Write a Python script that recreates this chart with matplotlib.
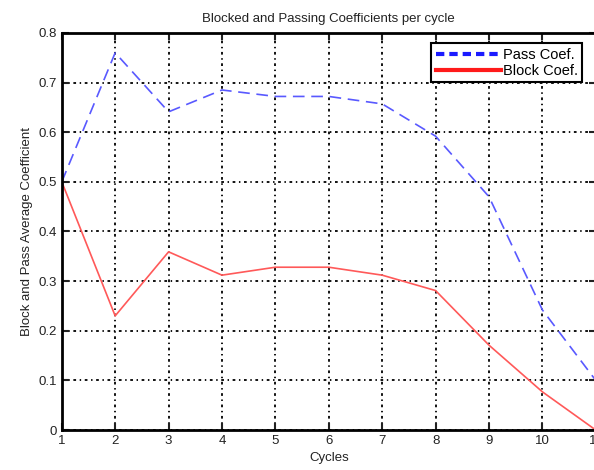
import numpy as np
import matplotlib
matplotlib.use('Agg')
import matplotlib.pyplot as plt
from matplotlib.lines import Line2D

plt.rcParams['font.family'] = ['Liberation Sans', 'DejaVu Sans']

# Data
cycles = [1, 2, 3, 4, 5, 6, 7, 8, 9, 10, 11]
pass_coef = [0.50, 0.76, 0.641, 0.685, 0.672, 0.672, 0.657, 0.592, 0.47, 0.242, 0.10]
block_coef = [0.50, 0.23, 0.359, 0.312, 0.328, 0.328, 0.312, 0.281, 0.171, 0.077, 0.0]

blue = (0.35, 0.35, 1.0)
red = (1.0, 0.35, 0.35)

fig = plt.figure(figsize=(5.94, 4.70), dpi=100)
ax = fig.add_axes([0.104, 0.085, 0.899, 0.845])

ax.plot(cycles, pass_coef, color=blue, lw=1.2, linestyle=(0, (7, 4)))
ax.plot(cycles, block_coef, color=red, lw=1.2)

ax.set_xlim(1, 11)
ax.set_ylim(0, 0.8)
ax.set_xticks(range(1, 12))
ax.set_yticks(np.arange(0, 0.81, 0.1))
ax.set_yticklabels(['0', '0.1', '0.2', '0.3', '0.4', '0.5', '0.6', '0.7', '0.8'])

ax.grid(True, color='black', linestyle=(0, (1.5, 2.0, 0.8, 2.0)), linewidth=1.3)
ax.set_axisbelow(True)
for s in ax.spines.values():
    s.set_linewidth(2)
ax.tick_params(direction='in', length=5, width=1.5, labelsize=9.5, colors='#222222',
               top=True, right=True)

ax.set_title('Blocked and Passing Coefficients per cycle', fontsize=9.5, color='#222222', pad=8)
ax.set_xlabel('Cycles', fontsize=9.5, color='#222222', labelpad=4)
ax.set_ylabel('Block and Pass Average Coefficient', fontsize=9.5, color='#222222', labelpad=4)

handles = [Line2D([], [], color=(0.1, 0.1, 1.0), lw=3, linestyle=(0, (2, 1.2))),
           Line2D([], [], color=(1.0, 0.1, 0.1), lw=3)]
leg = ax.legend(handles, ['Pass Coef.', 'Block Coef.'], loc='upper right',
                bbox_to_anchor=(0.983, 0.985), fancybox=False, framealpha=1,
                edgecolor='black', fontsize=10.5, handlelength=4.5, handletextpad=0.1,
                borderpad=0.3, labelspacing=0.15, borderaxespad=0.3)
leg.get_frame().set_linewidth(1.5)

fig.savefig('out.png', dpi=100)
